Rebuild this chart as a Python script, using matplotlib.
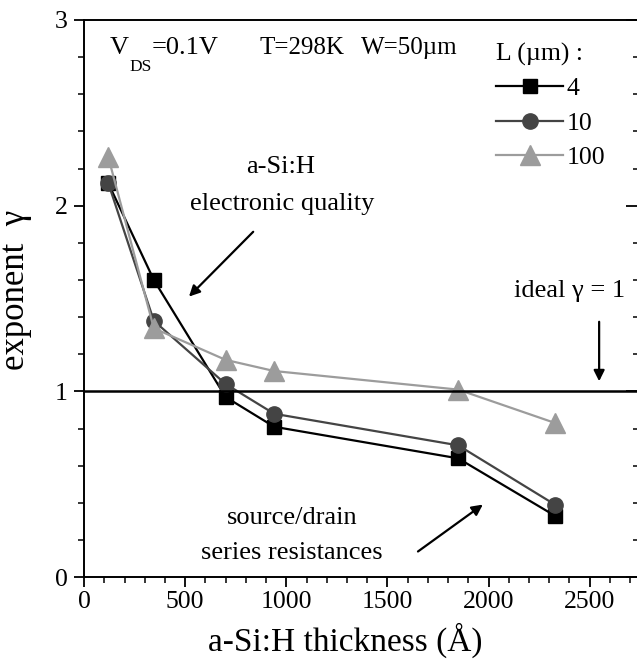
import matplotlib

matplotlib.use("Agg")
import matplotlib.pyplot as plt
from matplotlib.ticker import MultipleLocator
from matplotlib.transforms import offset_copy

plt.rcParams["font.family"] = ["Liberation Serif", "DejaVu Serif"]

# Espesor de a-Si:H (Angstrom) y exponente gamma para cada longitud de canal
espesor = [120, 345, 700, 940, 1850, 2330]
gamma_L4 = [2.12, 1.60, 0.97, 0.81, 0.64, 0.33]
gamma_L10 = [2.12, 1.38, 1.04, 0.88, 0.71, 0.39]
gamma_L100 = [2.26, 1.34, 1.17, 1.11, 1.01, 0.83]

series = [
    ("4", gamma_L4, "#000000", "s", 10),
    ("10", gamma_L10, "#444444", "o", 11),
    ("100", gamma_L100, "#9c9c9c", "^", 14),
]

TAM = 19

fig = plt.figure(figsize=(6.37, 6.62), dpi=100)
ax = fig.add_axes([0.132, 0.128, 0.873, 0.842])

for etiqueta, valores, color, marcador, tam in series:
    ax.plot(espesor, valores, "-", color=color, lw=1.6, marker=marcador,
            markersize=tam, label=etiqueta)

ax.axhline(1.0, color="black", lw=1.8)

ax.set_xlim(0, 2750)
ax.set_ylim(0, 3)
ax.xaxis.set_major_locator(MultipleLocator(500))
ax.xaxis.set_minor_locator(MultipleLocator(100))
ax.yaxis.set_major_locator(MultipleLocator(1))
ax.yaxis.set_minor_locator(MultipleLocator(0.2))
ax.tick_params(axis="both", which="major", direction="out", length=7, width=1.3,
               labelsize=18.5, pad=3)
ax.tick_params(axis="y", which="major", pad=5)
ax.tick_params(axis="both", which="minor", direction="out", length=4, width=1.1)
ax.spines["right"].set_visible(False)
for lado in ["left", "bottom", "top"]:
    ax.spines[lado].set_linewidth(1.4)

# marcas hacia dentro en el lado derecho
der = ax.twinx()
der.set_ylim(0, 3)
der.yaxis.set_major_locator(MultipleLocator(1))
der.yaxis.set_minor_locator(MultipleLocator(0.2))
der.tick_params(axis="y", which="major", direction="in", length=10, width=1.3,
                labelright=False)
der.tick_params(axis="y", which="minor", direction="in", length=5, width=1.1)
for lado in der.spines:
    der.spines[lado].set_visible(False)

ax.set_xlabel("a-Si:H thickness (Å)", fontsize=24)
ax.set_ylabel("exponent  γ", fontsize=25)
ax.xaxis.set_label_coords(0.47, -0.113)
ax.xaxis.label.set_va("center")
ax.yaxis.set_label_coords(-0.124, 0.516)
ax.yaxis.label.set_va("center")

# linea de condiciones: V con subindice DS bajado
fig.canvas.draw()
rend = fig.canvas.get_renderer()
t_v = ax.text(129, 2.85, "V", fontsize=19, va="center", ha="left")
ancho_v = t_v.get_window_extent(rend).width
t_ds = ax.text(129, 2.745, "DS", fontsize=12.5, va="center", ha="left",
               transform=offset_copy(ax.transData, fig=fig, x=ancho_v, y=0, units="dots"))
ancho_ds = t_ds.get_window_extent(rend).width
ax.text(129, 2.85, "=0.1V", fontsize=19, va="center", ha="left",
        transform=offset_copy(ax.transData, fig=fig, x=ancho_v + ancho_ds, y=0, units="dots"))
ax.text(865, 2.85, "T=298K", fontsize=18, va="center", ha="left")
ax.text(1370, 2.85, "W=50µm", fontsize=18, va="center", ha="left")

ax.text(970, 2.21, "a-Si:H", fontsize=TAM, ha="center", va="center")
ax.text(980, 2.01, "electronic quality", fontsize=TAM, ha="center", va="center")
ax.annotate("", xy=(509, 1.50), xytext=(846, 1.87),
            arrowprops=dict(arrowstyle="-|>", color="black", lw=1.6,
                            mutation_scale=16))

ax.text(2676, 1.54, "ideal γ = 1", fontsize=TAM, ha="right", va="center")
ax.annotate("", xy=(2547, 1.04), xytext=(2547, 1.39),
            arrowprops=dict(arrowstyle="-|>", color="black", lw=1.6,
                            mutation_scale=16))

ax.text(1029, 0.32, "source/drain", fontsize=TAM, ha="center", va="center")
ax.text(1029, 0.13, "series resistances", fontsize=TAM, ha="center", va="center")
ax.annotate("", xy=(1983, 0.40), xytext=(1640, 0.13),
            arrowprops=dict(arrowstyle="-|>", color="black", lw=1.6,
                            mutation_scale=16))

ax.legend(title="L (µm) :", loc="upper left", bbox_to_anchor=(0.741, 0.959),
          frameon=False, fontsize=18.5, title_fontsize=18.5, alignment="left",
          handlelength=2.6, handletextpad=0.15, labelspacing=0.45,
          borderaxespad=0, borderpad=0)

fig.savefig("out.png", dpi=100)
